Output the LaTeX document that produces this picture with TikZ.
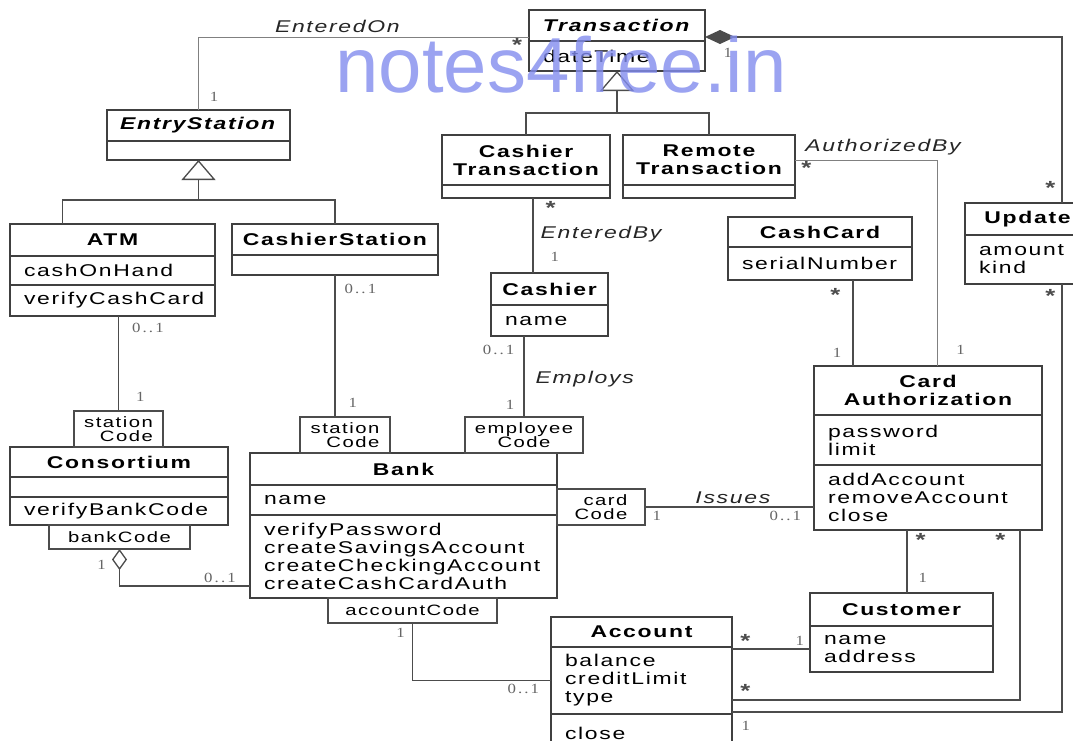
\documentclass[tikz,border=0pt]{standalone}
\usepackage{fontspec}
\usepackage{xcolor}
\usepackage{tikz}
\usetikzlibrary{positioning, arrows.meta}

\newfontfamily\umlfont{Liberation Sans}[FakeStretch=1.35, LetterSpace=10]
\newfontfamily\multfont{Liberation Serif}[FakeStretch=1.2, LetterSpace=15]
\newfontfamily\wmfont{Liberation Sans}
\definecolor{wmark}{RGB}{130,140,238}

\begin{document}
\begin{tikzpicture}[
    x=1pt, y=-1pt,
    box/.style={rectangle, draw=black!75, line width=1.3pt, inner sep=2pt, outer sep=0pt, align=center, font=\umlfont\bfseries\fontsize{17}{18}\selectfont},
    compart/.style={rectangle, draw=black!75, line width=1.3pt, inner xsep=14pt, inner ysep=2pt, outer sep=0pt, align=left, font=\umlfont\fontsize{17}{18}\selectfont},
    qual/.style={rectangle, draw=black!70, line width=1.1pt, inner sep=1pt, outer sep=0pt, font=\umlfont\fontsize{15}{14}\selectfont},
    conn/.style={draw=black!70, line width=1.3pt},
    faint/.style={draw=black!50, line width=0.9pt},
    gen/.style={conn, -{Triangle[open, length=20pt, width=34pt]}},
    mult/.style={inner sep=1pt, text=black!60, font=\multfont\fontsize{14}{14}\selectfont},
    starlbl/.style={inner sep=0pt, text=black!70, font=\umlfont\bfseries\fontsize{19}{19}\selectfont},
    role/.style={inner sep=1pt, text=black!85, font=\umlfont\itshape\fontsize{17}{18}\selectfont}
]
    \useasboundingbox (0,0) rectangle (1073,740);
    \fill[white] (0,0) rectangle (1073,740);

    % Classes
    \node[box, anchor=north west, minimum width=176pt, minimum height=31pt] (trans) at (529,10) {\textit{Transaction}};
    \node[compart, below=0pt of trans, text width=148pt, minimum height=30pt] (transattr) {dateTime};

    \node[box, anchor=north west, minimum width=168pt, minimum height=50pt] (ctrans) at (442,135) {Cashier\\Transaction};
    \node[compart, below=0pt of ctrans, text width=140pt, minimum height=13pt] (ctransattr) {};
    \node[box, anchor=north west, minimum width=172pt, minimum height=50pt] (rtrans) at (623,135) {Remote\\Transaction};
    \node[compart, below=0pt of rtrans, text width=144pt, minimum height=13pt] (rtransattr) {};

    \node[box, anchor=north west, minimum width=183pt, minimum height=31pt] (entry) at (107,110) {\textit{EntryStation}};
    \node[compart, below=0pt of entry, text width=155pt, minimum height=19pt] (entryattr) {};

    \node[box, anchor=north west, minimum width=205pt, minimum height=32pt] (atm) at (10,224) {ATM};
    \node[compart, below=0pt of atm, text width=177pt, minimum height=29pt] (atmattr) {cashOnHand};
    \node[compart, below=0pt of atmattr, text width=177pt, minimum height=31pt] (atmops) {verifyCashCard};

    \node[box, anchor=north west, minimum width=206pt, minimum height=31pt] (cstation) at (232,224) {CashierStation};
    \node[compart, below=0pt of cstation, text width=178pt, minimum height=20pt] (cstationattr) {};

    \node[box, anchor=north west, minimum width=117pt, minimum height=32pt] (cashier) at (491,273) {Cashier};
    \node[compart, below=0pt of cashier, text width=89pt, minimum height=31pt] (cashierattr) {name};

    \node[box, anchor=north west, minimum width=184pt, minimum height=30pt] (cashcard) at (728,217) {CashCard};
    \node[compart, below=0pt of cashcard, text width=156pt, minimum height=33pt] (cashcardattr) {serialNumber};

    \node[box, anchor=north west, minimum width=125pt, minimum height=32pt] (update) at (965,203) {Update};
    \node[compart, below=0pt of update, text width=97pt, minimum height=49pt] (updateattr) {amount\\kind};

    \node[box, anchor=north west, minimum width=228pt, minimum height=49pt] (cardauth) at (814,366) {Card\\Authorization};
    \node[compart, below=0pt of cardauth, text width=200pt, minimum height=50pt] (cardauthattr) {password\\limit};
    \node[compart, below=0pt of cardauthattr, text width=200pt, minimum height=65pt] (cardauthops) {addAccount\\removeAccount\\close};

    \node[box, anchor=north west, minimum width=183pt, minimum height=33pt] (customer) at (810,593) {Customer};
    \node[compart, below=0pt of customer, text width=155pt, minimum height=46pt] (customerattr) {name\\address};

    \node[box, anchor=north west, minimum width=181pt, minimum height=30pt] (account) at (551,617) {Account};
    \node[compart, below=0pt of account, text width=153pt, minimum height=67pt] (accountattr) {balance\\creditLimit\\type};
    \node[compart, below=0pt of accountattr, text width=153pt, minimum height=38pt] (accountops) {close};

    \node[box, anchor=north west, minimum width=307pt, minimum height=32pt] (bank) at (250,453) {Bank};
    \node[compart, below=0pt of bank, text width=279pt, minimum height=30pt] (bankattr) {name};
    \node[compart, below=0pt of bankattr, text width=279pt, minimum height=83pt] (bankops) {verifyPassword\\createSavingsAccount\\createCheckingAccount\\createCashCardAuth};

    \node[box, anchor=north west, minimum width=218pt, minimum height=30pt] (consortium) at (10,447) {Consortium};
    \node[compart, below=0pt of consortium, text width=190pt, minimum height=20pt] (consortiumattr) {};
    \node[compart, below=0pt of consortiumattr, text width=190pt, minimum height=28pt] (consortiumops) {verifyBankCode};

    % Qualifiers
    \node[qual, anchor=north west, minimum width=89pt, minimum height=36pt, align=right] (qconsstation) at (74,411) {station\\Code};
    \node[qual, anchor=north west, minimum width=90pt, minimum height=36pt, align=right] (qbankstation) at (300,417) {station\\Code};
    \node[qual, anchor=north west, minimum width=118pt, minimum height=36pt, align=center] (qemployee) at (465,417) {employee\\Code};
    \node[qual, anchor=north west, minimum width=141pt, minimum height=24pt] (qbankcode) at (49,525) {bankCode};
    \node[qual, anchor=north west, minimum width=169pt, minimum height=25pt] (qaccount) at (328,598) {accountCode};
    \node[qual, anchor=north west, minimum width=88pt, minimum height=36pt, align=right] (qcard) at (557,489) {card\\Code};

    % Generalizations
    \coordinate (tbar) at ([yshift=-42pt]transattr.south);
    \draw[conn] (ctrans.north) |- (tbar) -| (rtrans.north);
    \draw[gen] (tbar) -- (transattr.south);
    \coordinate (ebar) at ([yshift=-40pt]entryattr.south);
    \draw[conn] ([xshift=-50pt]atm.north) |- (ebar) -| (cstation.north);
    \draw[gen] (ebar) -- (entryattr.south);

    % Associations
    \draw[faint] (entry.north) |- ([yshift=4pt]trans.south west)
        node[mult, pos=0.09, right=10pt] {1}
        node[starlbl, pos=0.982, below=1pt] {*}
        node[role, pos=0.71, above=3pt] {EnteredOn};
    \draw[conn, {Diamond[length=30pt, width=14pt]}-] ([yshift=4pt]trans.south east) -| ([xshift=34.5pt]update.north)
        node[mult, pos=0.032, below=10pt] {1}
        node[starlbl, pos=0.955, left=6pt] {*};
    \draw[conn] ([xshift=34.5pt]updateattr.south) |- ([yshift=2pt]accountattr.south east)
        node[starlbl, pos=0.014, left=6pt] {*}
        node[mult, pos=0.979, below=8pt] {1};
    \draw[conn] ([xshift=92pt]cardauthops.south) |- ([yshift=14pt]accountattr.south east)
        node[starlbl, pos=0.03, left=14pt] {*}
        node[starlbl, pos=0.977, above=2pt] {*};
    \draw[conn] ([xshift=-21pt]cardauthops.south) -- ([xshift=-21pt]cardauthops.south |- customer.north)
        node[starlbl, pos=0.16, right=8pt] {*}
        node[mult, pos=0.76, right=10pt] {1};
    \draw[conn] (customerattr.west) -- (customerattr.west -| accountattr.east)
        node[mult, pos=0.13, above=2pt] {1}
        node[starlbl, pos=0.83, above=1pt] {*};
    \draw[conn] (qcard.east) -- (qcard.east -| cardauthops.west)
        node[mult, pos=0.07, below=3pt] {1}
        node[mult, pos=0.83, below=3pt] {0..1}
        node[role, pos=0.52, above=2pt] {Issues};
    \draw[conn] (qaccount.south) |- (accountattr.west)
        node[mult, pos=0.09, left=6pt] {1}
        node[mult, pos=0.9, below=2pt] {0..1};
    \draw[conn, {Diamond[open, length=21pt, width=15pt]}-] (qbankcode.south) |- ([yshift=12pt]bankops.south west)
        node[mult, pos=0.22, left=12pt] {1}
        node[mult, pos=0.885, above=2pt] {0..1};
    \draw[conn] (cstationattr.south) -- (cstationattr.south |- qbankstation.north)
        node[mult, pos=0.1, right=8pt] {0..1}
        node[mult, pos=0.9, right=12pt] {1};
    \draw[conn] (qemployee.north |- cashierattr.south) -- (qemployee.north)
        node[mult, pos=0.17, left=8pt] {0..1}
        node[role, pos=0.53, right=10pt] {Employs}
        node[mult, pos=0.85, left=8pt] {1};
    \draw[conn] ([xshift=7pt]ctransattr.south) -- ([xshift=7pt]ctransattr.south |- cashier.north)
        node[starlbl, pos=0.13, right=12pt] {*}
        node[role, pos=0.48, right=6pt] {EnteredBy}
        node[mult, pos=0.79, right=16pt] {1};
    \draw[faint] (rtrans.east) -| ([xshift=9pt]cardauth.north)
        node[role, pos=0.31, above=4pt] {AuthorizedBy}
        node[starlbl, pos=0.04, below=1pt] {*}
        node[mult, pos=0.96, right=18pt] {1};
    \draw[conn] ([xshift=33pt]cashcardattr.south) -- ([xshift=33pt]cashcardattr.south |- cardauth.north)
        node[starlbl, pos=0.17, left=12pt] {*}
        node[mult, pos=0.85, left=10pt] {1};
    \draw[conn] (qconsstation.north |- atmops.south) -- (qconsstation.north)
        node[mult, pos=0.13, right=12pt] {0..1}
        node[mult, pos=0.85, right=16pt] {1};

    % Watermark
    \node[anchor=base, text=wmark, text opacity=0.8, font=\wmfont\fontsize{78}{78}\selectfont] (watermark) at (561,92) {notes4free.in};
\end{tikzpicture}
\end{document}
